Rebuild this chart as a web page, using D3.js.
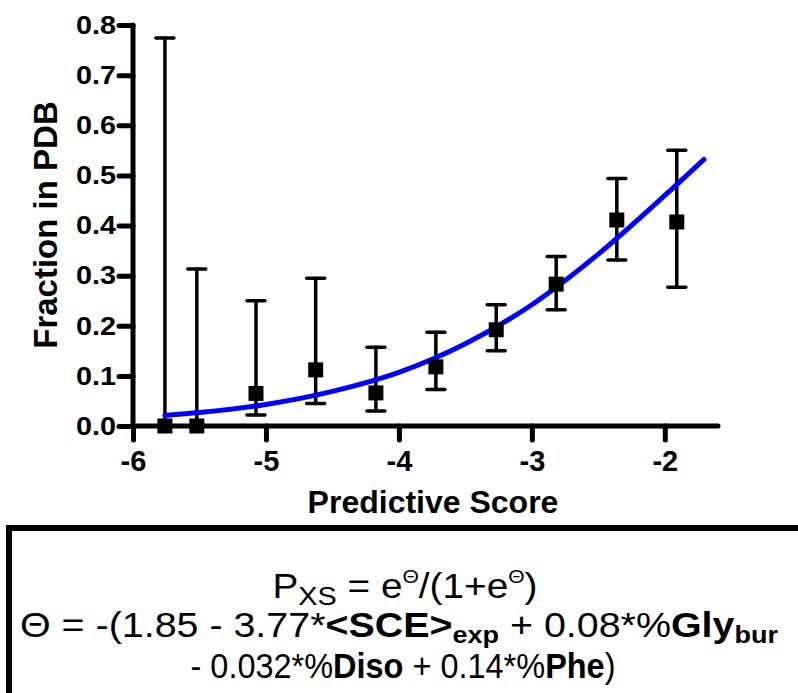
<!DOCTYPE html>
<html>
<head>
<meta charset="utf-8">
<script src="https://cdn.jsdelivr.net/npm/d3@7"></script>
<style>
  html, body { margin: 0; padding: 0; background: #fff; }
  svg { display: block; }
  text { font-family: "Liberation Sans", Arial, sans-serif; }
</style>
</head>
<body>
<svg id="chart" width="798" height="693"></svg>
<script>
// ---- Data ----
const xValues  = [-5.76, -5.52, -5.075, -4.626, -4.173, -3.722, -3.268, -2.817, -2.361, -1.910];
const yValues  = [0.000, 0.000, 0.065, 0.112, 0.066, 0.118, 0.192, 0.283, 0.411, 0.407];
const errUpper = [0.774, 0.313, 0.250, 0.295, 0.157, 0.187, 0.242, 0.338, 0.494, 0.550];
const errLower = [0.000, 0.000, 0.022, 0.045, 0.030, 0.073, 0.150, 0.232, 0.331, 0.277];

const fitX = [-5.76, -5.5, -5.0, -4.5, -4.0, -3.5, -3.0, -2.5, -2.0, -1.705];
const fitY = [0.021, 0.027, 0.043, 0.069, 0.107, 0.164, 0.242, 0.343, 0.460, 0.532];

const xTicks = [-6, -5, -4, -3, -2];
const yTicks = [0.0, 0.1, 0.2, 0.3, 0.4, 0.5, 0.6, 0.7, 0.8];
const xLabel = "Predictive Score";
const yLabel = "Fraction in PDB";

// ---- Layout ----
const svg = d3.select("#chart");
const x = d3.scaleLinear().domain([-6, -1.6]).range([133, 718]);
const y = d3.scaleLinear().domain([0, 0.8]).range([426, 25]);

// Axes
const xAxis = svg.append("g").attr("transform", `translate(0,${y(0)})`)
  .call(d3.axisBottom(x).tickValues(xTicks).tickSize(14).tickPadding(10).tickFormat(d3.format("d")));
const yAxis = svg.append("g").attr("transform", `translate(${x(-6)},0)`)
  .call(d3.axisLeft(y).tickValues(yTicks).tickSize(14).tickPadding(3).tickFormat(d3.format(".1f")));

[xAxis, yAxis].forEach(g => {
  g.select(".domain").attr("stroke", "#000").attr("stroke-width", 5).attr("stroke-linecap", "round");
  g.selectAll(".tick line").attr("stroke", "#000").attr("stroke-width", 5).attr("stroke-linecap", "round");
});
xAxis.select(".domain").attr("d", `M${x(-6)},0H${x(-1.6)}`);
yAxis.select(".domain").attr("d", `M0,${y(0.8)}V${y(0)}`);

xAxis.selectAll(".tick text")
  .attr("font-size", 29).attr("font-weight", "bold").attr("fill", "#000")
  .text(d => d3.format("d")(d).replace("−", "-"));
yAxis.selectAll(".tick text")
  .attr("font-size", 26).attr("font-weight", "bold").attr("fill", "#000")
  .attr("textLength", 40).attr("lengthAdjust", "spacingAndGlyphs");

// Axis titles
svg.append("text")
  .attr("x", 433).attr("y", 513)
  .attr("text-anchor", "middle")
  .attr("font-size", 32).attr("font-weight", "bold")
  .text(xLabel);
svg.append("text")
  .attr("transform", `translate(57,225) rotate(-90)`)
  .attr("text-anchor", "middle")
  .attr("font-size", 33).attr("font-weight", "bold")
  .text(yLabel);

// Error bars
const pts = xValues.map((v, i) => ({x: v, y: yValues[i], hi: errUpper[i], lo: errLower[i]}));
const eb = svg.append("g").attr("stroke", "#000").attr("stroke-width", 3.5).attr("stroke-linecap", "round");
pts.forEach(p => {
  eb.append("line").attr("x1", x(p.x)).attr("x2", x(p.x)).attr("y1", y(p.hi)).attr("y2", y(p.lo));
  eb.append("line").attr("x1", x(p.x) - 9).attr("x2", x(p.x) + 9).attr("y1", y(p.hi)).attr("y2", y(p.hi));
  if (p.lo > 0) {
    eb.append("line").attr("x1", x(p.x) - 9).attr("x2", x(p.x) + 9).attr("y1", y(p.lo)).attr("y2", y(p.lo));
  }
});

// Fitted curve
const fit = fitX.map((v, i) => [v, fitY[i]]);
svg.append("path")
  .datum(fit)
  .attr("fill", "none").attr("stroke", "#0000ff").attr("stroke-width", 5).attr("stroke-linecap", "round")
  .attr("d", d3.line().x(d => x(d[0])).y(d => y(d[1])).curve(d3.curveMonotoneX));

// Squares
const sq = 15;
svg.append("g").selectAll("rect").data(pts).join("rect")
  .attr("x", d => x(d.x) - sq / 2).attr("y", d => y(d.y) - sq / 2)
  .attr("width", sq).attr("height", sq).attr("fill", "#000");

// Formula box
svg.append("rect")
  .attr("x", 9).attr("y", 528).attr("width", 820).attr("height", 200)
  .attr("fill", "none").attr("stroke", "#000").attr("stroke-width", 6);

const f = svg.append("g").attr("font-size", 35).attr("fill", "#000");
// Line 1
const l1 = f.append("text").attr("x", 405).attr("y", 598).attr("text-anchor", "middle")
  .attr("textLength", 265).attr("lengthAdjust", "spacingAndGlyphs");
l1.append("tspan").text("P");
l1.append("tspan").attr("font-size", 26).attr("dy", 7).text("XS");
l1.append("tspan").attr("dy", -7).text(" = e");
l1.append("tspan").attr("font-size", 19).attr("dy", -15).text("Θ");
l1.append("tspan").attr("dy", 15).text("/(1+e");
l1.append("tspan").attr("font-size", 19).attr("dy", -15).text("Θ");
l1.append("tspan").attr("dy", 15).text(")");

// Line 2
const l2 = f.append("text").attr("x", 399).attr("y", 637).attr("text-anchor", "middle")
  .attr("textLength", 758).attr("lengthAdjust", "spacingAndGlyphs");
l2.append("tspan").text("Θ = -(1.85 - 3.77*");
l2.append("tspan").attr("font-weight", "bold").text("<SCE>");
l2.append("tspan").attr("font-weight", "bold").attr("font-size", 24).attr("dy", 6).text("exp");
l2.append("tspan").attr("dy", -6).text(" + 0.08*%");
l2.append("tspan").attr("font-weight", "bold").text("Gly");
l2.append("tspan").attr("font-weight", "bold").attr("font-size", 24).attr("dy", 6).text("bur");

// Line 3
const l3 = f.append("text").attr("x", 403).attr("y", 678).attr("text-anchor", "middle")
  .attr("textLength", 425).attr("lengthAdjust", "spacingAndGlyphs");
l3.append("tspan").text("- 0.032*%");
l3.append("tspan").attr("font-weight", "bold").text("Diso");
l3.append("tspan").text(" + 0.14*%");
l3.append("tspan").attr("font-weight", "bold").text("Phe");
l3.append("tspan").text(")");
</script>
</body>
</html>
